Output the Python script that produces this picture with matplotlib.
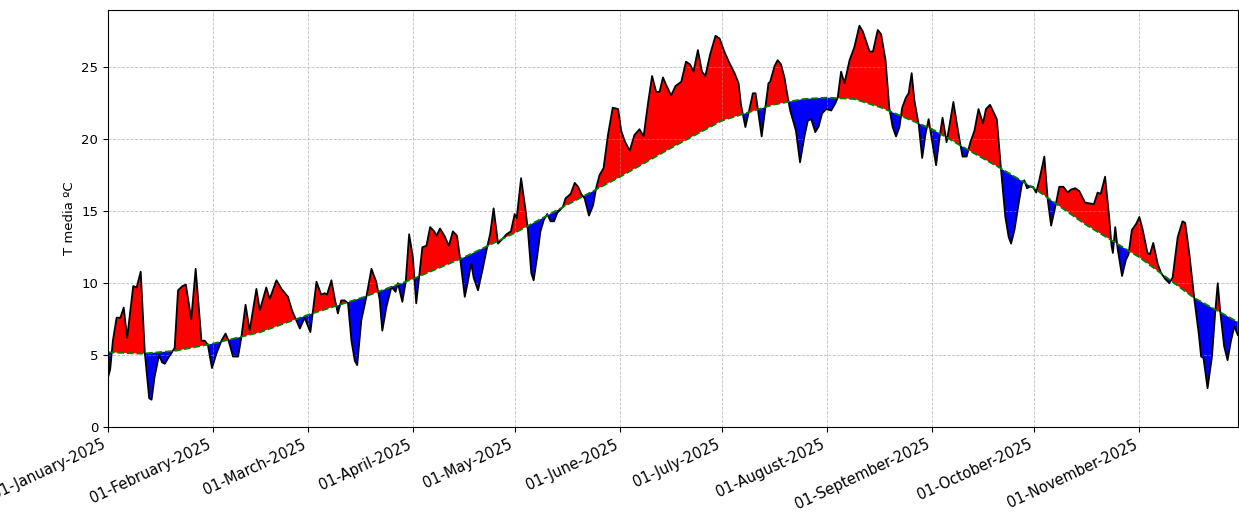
import numpy as np
import pandas as pd
import matplotlib
matplotlib.use("Agg")
import matplotlib.pyplot as plt
import matplotlib.dates as mdates

START = pd.Timestamp("2025-01-01")

# daily mean temperature, vertices (day offset from 01-Jan, degC)
T_DAYS = [0, 0.7, 1.5, 2.6, 3.7, 4.7, 5.7, 7.5, 8.5, 9.7, 10.9, 12.2, 12.9, 13.8, 15.1, 16.0, 16.8,
          17.8, 19.7, 20.7, 22.0, 23.0, 24.6, 25.9, 27.6, 28.6, 29.5, 30.7, 32.0, 33.5, 34.7, 35.6,
          36.9, 38.4, 39.4, 40.6, 41.8, 43.8, 44.8, 46.7, 47.7, 49.7, 51.2, 53.1, 54.3, 55.6, 56.6,
          58.0, 59.7, 61.5, 62.9, 63.9, 64.6, 65.9, 66.9, 67.8, 68.8, 69.8, 70.8, 71.8, 72.8, 73.5,
          74.7, 76.2, 77.7, 79.1, 80.1, 80.9, 82.1, 83.6, 84.8, 85.5, 86.8, 87.8, 88.8, 89.9, 90.9,
          92.7, 93.9, 95.0, 96.2, 96.9, 97.9, 99.2, 100.5, 101.7, 102.9, 103.9, 105.2, 106.1, 107.1,
          107.8, 109.1, 110.4, 111.7, 112.7, 113.7, 115.0, 116.4, 117.5, 118.8, 119.9, 120.5, 121.8,
          123.1, 123.8, 124.8, 125.5, 126.5, 127.5, 128.5, 129.5, 130.5, 131.5, 132.5, 134.1, 134.9,
          136.4, 137.6, 138.6, 139.5, 140.5, 141.8, 143.0, 144.0, 144.9, 146.1, 147.4, 148.8, 150.4,
          151.3, 152.3, 153.8, 155.2, 156.7, 157.9, 159.2, 160.4, 161.6, 162.6, 163.6, 164.7, 166.0,
          167.3, 169.0, 170.4, 171.6, 172.6, 173.9, 175.1, 176.1, 177.5, 179.1, 180.3, 181.7, 183.0,
          184.7, 185.9, 186.6, 187.9, 189.1, 190.1, 190.9, 192.7, 193.9, 194.7, 195.2, 196.5, 197.4,
          198.4, 199.4, 200.4, 201.1, 202.8, 204.0, 205.3, 206.3, 207.3, 208.5, 209.5, 210.5, 211.7,
          213.2, 214.4, 215.1, 216.1, 217.1, 218.6, 220.0, 221.5, 222.5, 224.5, 225.5, 226.9, 227.9,
          229.2, 230.3, 231.3, 232.3, 233.3, 234.1, 235.2, 236.0, 236.9, 237.7, 239.0, 240.0, 241.0,
          241.9, 242.9, 244.1, 245.1, 246.0, 247.2, 248.0, 249.2, 250.2, 251.2, 251.9, 253.1, 254.2,
          255.4, 256.6, 257.9, 258.8, 260.0, 261.0, 262.0, 263.2, 264.5, 265.5, 266.2, 267.2, 268.4,
          269.4, 270.1, 270.9, 271.6, 272.6, 273.6, 274.5, 276.0, 277.0, 278.0, 279.3, 280.4, 281.6,
          282.9, 283.8, 285.1, 286.3, 288.0, 289.2, 290.6, 291.7, 292.6, 293.9, 295.1, 295.8, 296.2,
          296.9, 297.6, 298.9, 300.0, 300.8, 301.8, 303.0, 304.0, 304.9, 306.4, 307.1, 308.1, 309.4,
          310.4, 311.6, 312.8, 313.8, 315.3, 316.7, 317.5, 318.7, 320.2, 321.5, 322.2, 322.9, 324.1,
          325.4, 326.4, 327.1, 327.8, 329.0, 330.0, 331.0, 332.0, 333.0]
T_MED = [3.4, 4.0, 6.0, 7.6, 7.6, 8.3, 6.2, 9.8, 9.7, 10.8, 5.2, 2.0, 1.9, 3.5, 5.0, 4.5, 4.4,
         4.8, 5.5, 9.5, 9.8, 9.9, 7.5, 11.0, 6.0, 6.0, 5.7, 4.1, 5.1, 6.0, 6.5, 6.0,
         4.9, 4.9, 6.3, 8.5, 6.7, 9.6, 8.1, 9.7, 8.9, 10.2, 9.6, 9.05, 8.1, 7.4, 6.85,
         7.6, 6.6, 10.1, 9.2, 9.3, 9.2, 10.2, 8.9, 7.9, 8.8, 8.8, 8.6, 6.0, 4.6, 4.3,
         7.4, 9.05, 11.0, 10.1, 8.9, 6.7, 8.35, 9.75, 9.4, 10.0, 8.7, 10.1, 13.4, 11.8, 8.6,
         12.5, 12.6, 13.9, 13.6, 13.3, 13.8, 13.3, 12.6, 13.6, 13.3, 11.6, 9.05, 10.1, 11.4,
         10.4, 9.5, 10.9, 12.4, 13.45, 15.2, 12.75, 13.1, 13.4, 13.6, 14.8, 14.5, 17.3,
         15.1, 13.7, 10.7, 10.2, 11.8, 13.6, 14.4, 14.8, 14.3, 14.3, 14.9, 15.3, 15.9,
         16.2, 16.97, 16.7, 16.2, 15.9, 14.7, 15.4, 16.7, 17.5, 18.0, 20.3, 22.2, 22.1,
         20.6, 19.9, 19.2, 20.3, 20.7, 20.2, 22.5, 24.4, 23.3, 23.3, 24.3, 23.7, 23.05,
         23.7, 24.0, 25.4, 25.2, 24.7, 26.2, 24.7, 24.4, 25.9, 27.2, 27.0, 26.1, 25.4,
         24.6, 23.9, 22.4, 20.85, 22.1, 23.2, 23.2, 20.2, 22.4, 23.9, 24.0, 25.1, 25.5,
         25.2, 24.3, 22.9, 22.0, 20.6, 18.4, 20.2, 21.3, 21.4, 20.5, 20.9, 21.8, 22.1,
         22.0, 22.5, 22.9, 24.7, 23.9, 25.5, 26.4, 27.9, 27.5, 26.1, 26.1, 27.6, 27.3,
         25.5, 22.2, 20.85, 20.2, 20.85, 22.2, 22.9, 23.2, 24.6, 22.7, 20.97, 18.7, 20.4,
         21.4, 19.9, 18.2, 20.1, 21.5, 19.8, 20.9, 22.6, 21.1, 19.7, 18.8, 18.8, 19.8,
         20.6, 22.1, 21.1, 22.1, 22.4, 21.9, 21.4, 18.0, 14.6, 13.2, 12.75, 13.7, 15.5,
         16.9, 17.15, 16.6, 16.7, 16.7, 16.3, 17.15, 18.8, 15.8, 14.0, 15.4, 16.7, 16.7,
         16.3, 16.5, 16.6, 16.4, 15.6, 15.55, 15.5, 16.3, 16.2, 17.4, 14.6, 12.6, 12.1,
         13.9, 12.4, 10.5, 11.6, 12.0, 13.7, 14.1, 14.6, 13.8, 12.1, 12.0, 12.8, 11.35,
         10.7, 10.3, 10.0, 10.4, 13.2, 14.3, 14.2, 12.1, 8.9, 6.5, 4.9, 4.8, 2.7,
         4.9, 8.1, 10.0, 8.1, 5.6, 4.65, 6.0, 7.0, 6.4]

# reference (climatological) mean
C_DAYS = [0, 10, 20, 31, 45, 59, 75, 90, 105, 120, 135, 151, 166, 181, 196, 205, 212, 220, 228,
          243, 254, 263, 273, 288, 304, 320, 333]
C_MED = [5.2, 5.1, 5.3, 5.8, 6.6, 7.8, 9.0, 10.3, 11.8, 13.5, 15.4, 17.4, 19.4, 21.3, 22.4, 22.8,
         22.9, 22.8, 22.2, 20.7, 19.2, 18.0, 16.6, 14.1, 11.8, 9.0, 7.3]


def to_dates(days):
    return (START + pd.to_timedelta(np.asarray(days, float), unit="D")).to_numpy()


t_days = np.asarray(T_DAYS, float)
t_med = np.asarray(T_MED, float)
c_at_t = np.interp(t_days, C_DAYS, C_MED)   # reference on the same x, for the fill
x = to_dates(t_days)

fig, ax = plt.subplots(figsize=(12.39, 5.17), dpi=100)
ax.fill_between(x, t_med, c_at_t, where=t_med >= c_at_t, interpolate=True, color="red", lw=0)
ax.fill_between(x, t_med, c_at_t, where=t_med < c_at_t, interpolate=True, color="blue", lw=0)
ax.plot(x, t_med, color="black", lw=1.3)
ax.plot(to_dates(C_DAYS), C_MED, color="green", ls="--", lw=1.3)

ax.set_xlim(x[0], x[-1])
ax.set_ylim(0, 29)
ax.set_yticks([0, 5, 10, 15, 20, 25])
ax.xaxis.set_major_locator(mdates.MonthLocator(bymonthday=1))
ax.xaxis.set_major_formatter(mdates.DateFormatter("%d-%B-%Y"))
ax.grid(True, ls="--", color="0.6", lw=0.6, alpha=0.6)
ax.set_ylabel("T media ºC", fontsize=9.5)
ax.tick_params(axis="y", labelsize=9.5)
ax.tick_params(axis="x", labelsize=10.5)
for lab in ax.get_xticklabels():
    lab.set_rotation(25)
    lab.set_ha("right")
fig.subplots_adjust(left=0.087, right=0.999, bottom=0.174, top=0.981)
fig.savefig("out.png", dpi=100)
